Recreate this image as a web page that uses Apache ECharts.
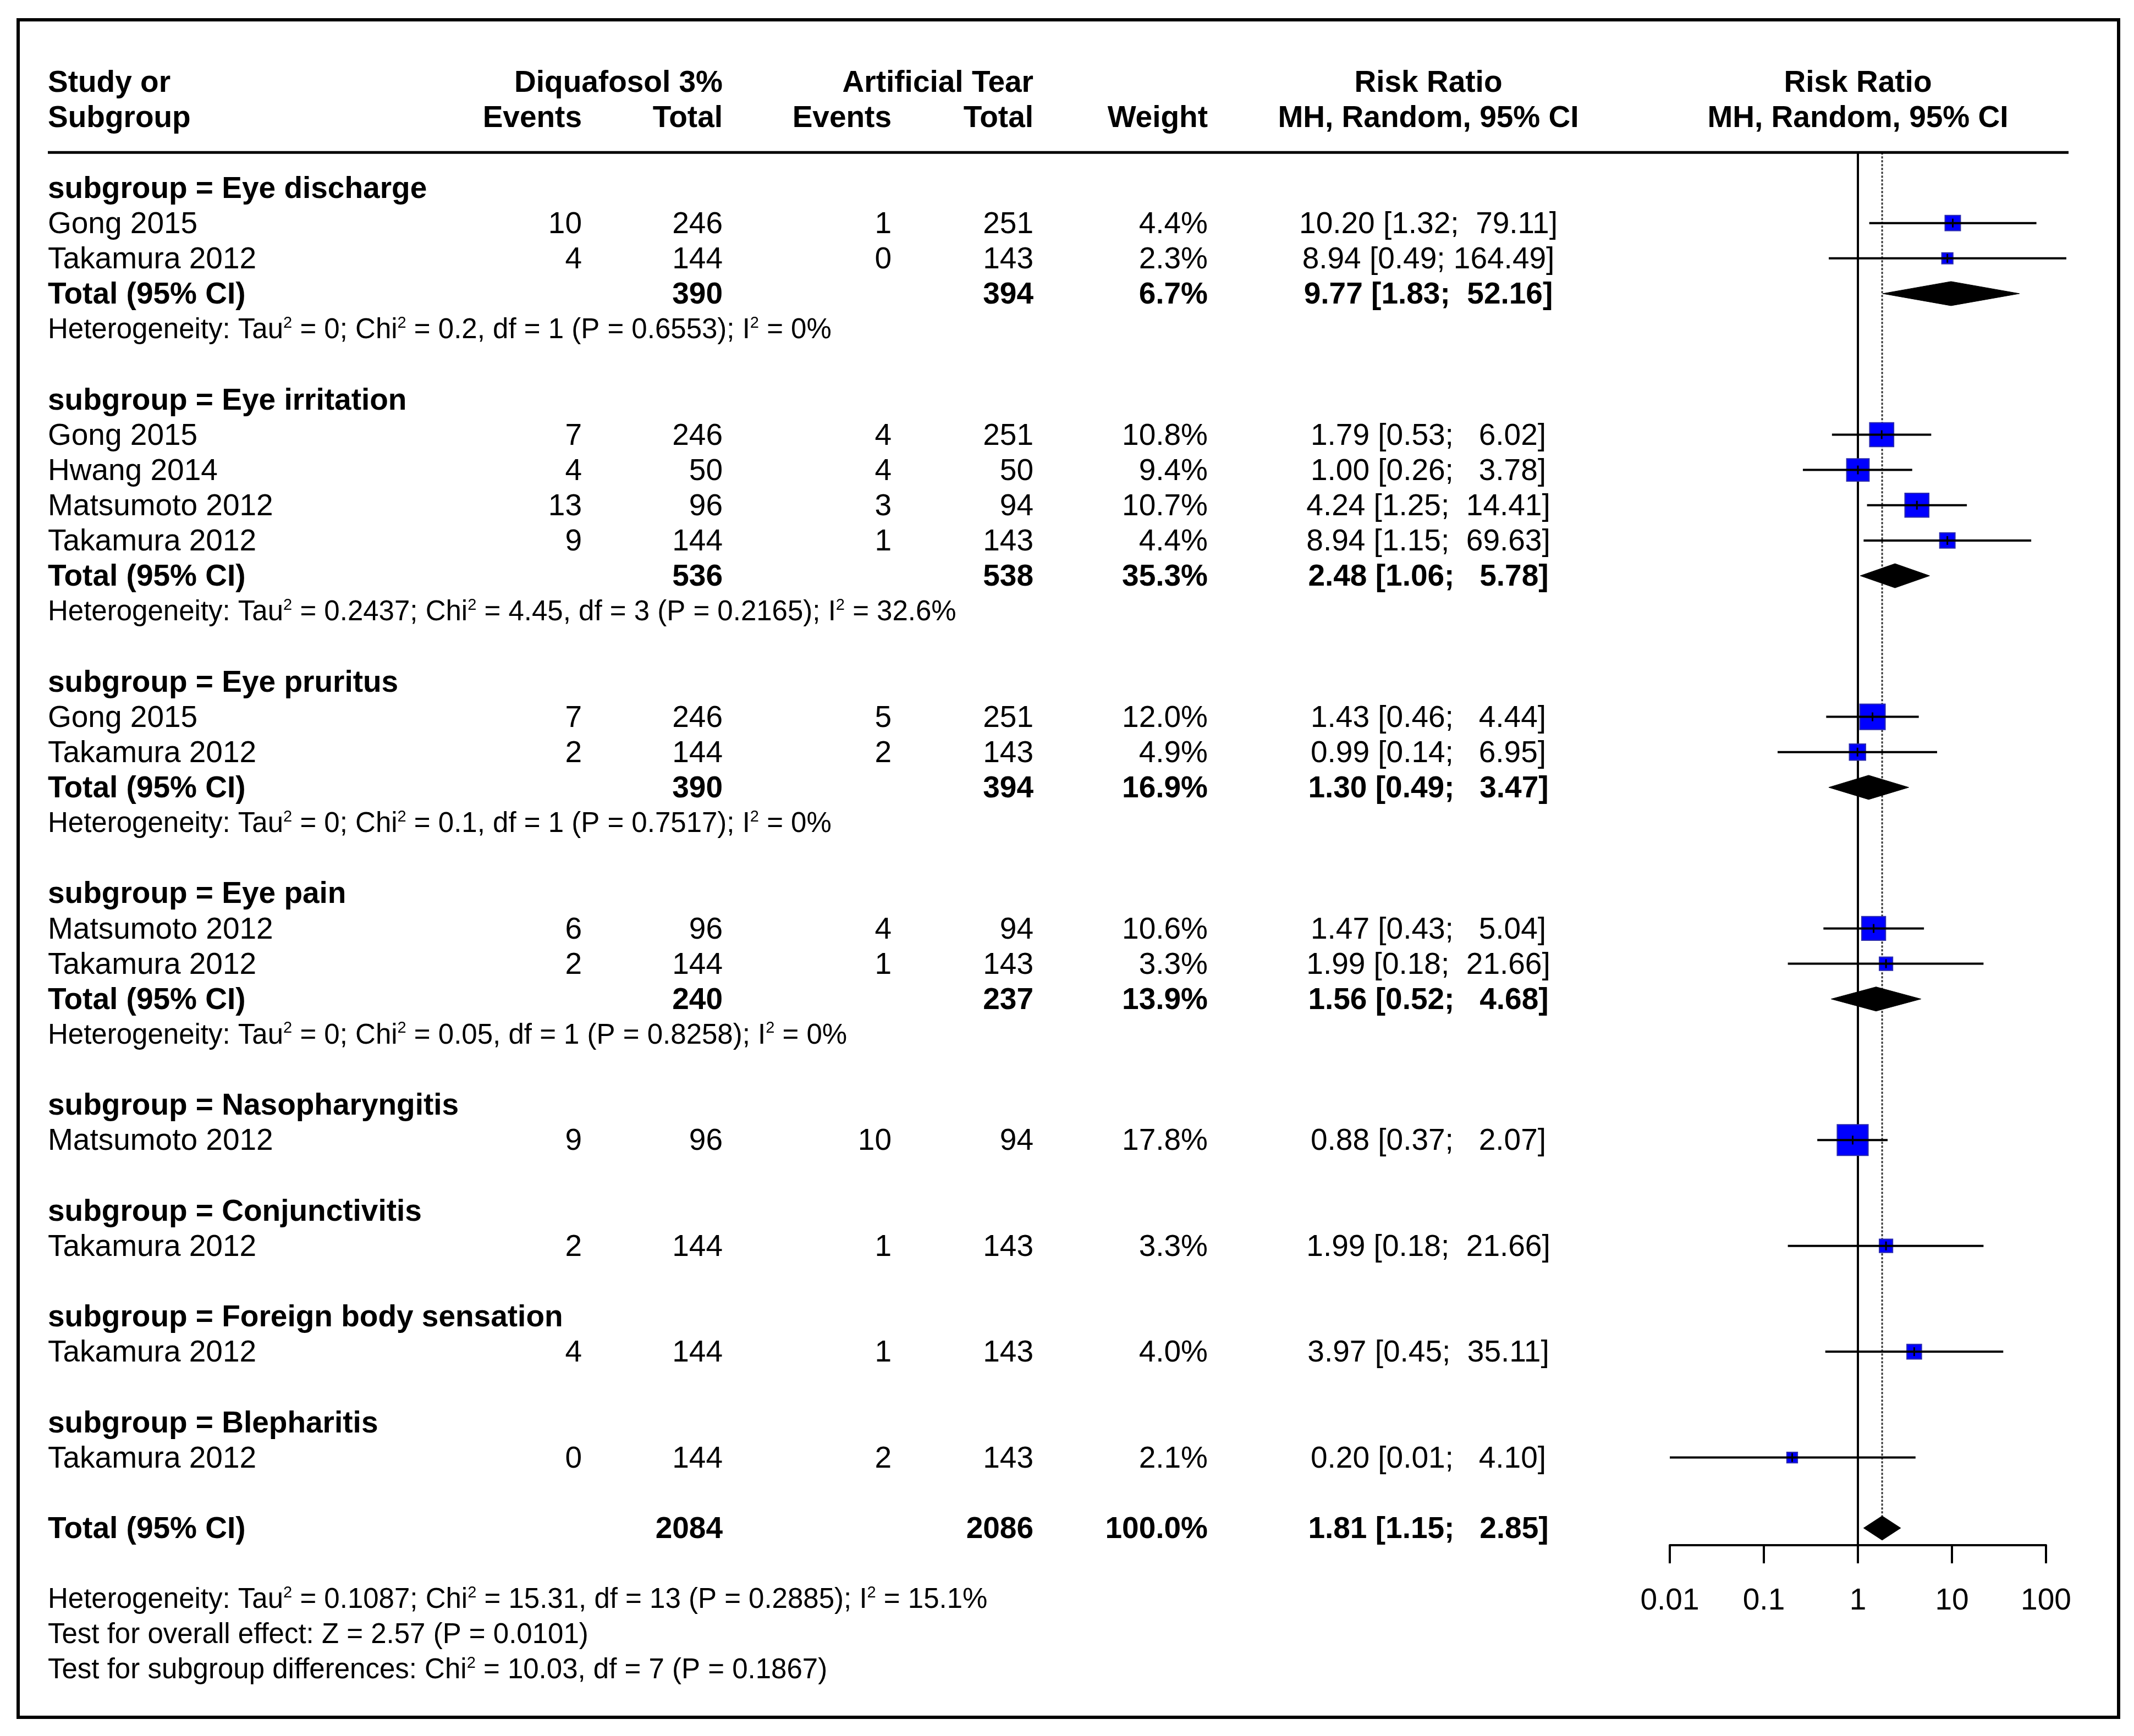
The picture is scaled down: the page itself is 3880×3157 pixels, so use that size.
<!DOCTYPE html>
<html><head><meta charset="utf-8">
<script src="https://cdn.jsdelivr.net/npm/echarts@6/dist/echarts.min.js"></script>
<style>html,body{margin:0;padding:0;background:#fff}#c{width:3880px;height:3157px}</style>
</head><body><div id="c"></div>
<script>
// ---------------- DATA ----------------
const subgroups = ['Eye discharge','Eye irritation','Eye pruritus','Eye pain','Nasopharyngitis','Conjunctivitis','Foreign body sensation','Blepharitis'];
const studyGroup = [0,0,1,1,1,1,2,2,3,3,4,5,6,7];
const studyNames = ['Gong 2015','Takamura 2012','Gong 2015','Hwang 2014','Matsumoto 2012','Takamura 2012','Gong 2015','Takamura 2012','Matsumoto 2012','Takamura 2012','Matsumoto 2012','Takamura 2012','Takamura 2012','Takamura 2012'];
const eventsDiq = [10,4,7,4,13,9,7,2,6,2,9,2,4,0];
const totalDiq  = [246,144,246,50,96,144,246,144,96,144,96,144,144,144];
const eventsArt = [1,0,4,4,3,1,5,2,4,1,10,1,1,2];
const totalArt  = [251,143,251,50,94,143,251,143,94,143,94,143,143,143];
const weights   = [4.4,2.3,10.8,9.4,10.7,4.4,12.0,4.9,10.6,3.3,17.8,3.3,4.0,2.1];
const riskRatio = [10.20,8.94,1.79,1.00,4.24,8.94,1.43,0.99,1.47,1.99,0.88,1.99,3.97,0.20];
const ciLower   = [1.32,0.49,0.53,0.26,1.25,1.15,0.46,0.14,0.43,0.18,0.37,0.18,0.45,0.01];
const ciUpper   = [79.11,164.49,6.02,3.78,14.41,69.63,4.44,6.95,5.04,21.66,2.07,21.66,35.11,4.10];

// subgroup pooled results (null = single-study subgroup)
const sgTotalDiq = [390,536,390,240,null,null,null,null];
const sgTotalArt = [394,538,394,237,null,null,null,null];
const sgWeight   = [6.7,35.3,16.9,13.9];
const sgRR       = [9.77,2.48,1.30,1.56];
const sgLo       = [1.83,1.06,0.49,0.52];
const sgHi       = [52.16,5.78,3.47,4.68];
const sgTau2     = ['0','0.2437','0','0'];
const sgChi2     = ['0.2','4.45','0.1','0.05'];
const sgDf       = [1,3,1,1];
const sgP        = ['0.6553','0.2165','0.7517','0.8258'];
const sgI2       = ['0','32.6','0','0'];

const overallTotalDiq = 2084, overallTotalArt = 2086, overallWeight = 100.0;
const overallRR = 1.81, overallLo = 1.15, overallHi = 2.85;
const overallTau2 = '0.1087', overallChi2 = '15.31', overallDf = 13, overallP = '0.2885', overallI2 = '15.1';
const overallZ = '2.57', overallZP = '0.0101';
const diffChi2 = '10.03', diffDf = 7, diffP = '0.1867';

const tickValues = [0.01,0.1,1,10,100];
const tickLabels = ['0.01','0.1','1','10','100'];

// ---------------- LAYOUT ----------------
const W = 3880, H = 3157;
const ROW0 = 341.5, ROWH = 64.14;
const TEXT_DY = 3;
const YMIN = -4, YMAX = 43;
const FONT = '"Liberation Sans", Arial, Helvetica, sans-serif';
const FS = 55, FS_HET = 51;
const X_NAME = 87, X_EV_D = 1058, X_TOT_D = 1314, X_EV_A = 1621, X_TOT_A = 1879, X_WT = 2196, X_RR = 2597;
const X_RULE_END = 3761;
const X_AX_L = 3036, X_AX_R = 3720, AXIS_Y = 2810;
const AXIS_ROW = (AXIS_Y - ROW0) / ROWH;
const DIAMOND_H = 22;

// ---------------- BUILD TABLE ----------------
const cells = [];
const marks = [];
function addCell(x, row, text, align, bold, rich, small) { cells.push({x, row, text, align, bold: !!bold, rich: !!rich, small: !!small}); }
function ciText(e, l, h) { return e.toFixed(2) + ' [' + l.toFixed(2).padStart(4, ' ') + '; ' + h.toFixed(2).padStart(6, ' ') + ']'; }
function hetText(t, c, d, p, i) { return 'Heterogeneity: Tau{s|2} = ' + t + '; Chi{s|2} = ' + c + ', df = ' + d + ' (P = ' + p + '); I{s|2} = ' + i + '%'; }

addCell(X_NAME, -3, 'Study or', 'left', 1);
addCell(X_NAME, -2, 'Subgroup', 'left', 1);
addCell(X_TOT_D, -3, 'Diquafosol 3%', 'right', 1);
addCell(X_EV_D, -2, 'Events', 'right', 1);
addCell(X_TOT_D, -2, 'Total', 'right', 1);
addCell(X_TOT_A, -3, 'Artificial Tear', 'right', 1);
addCell(X_EV_A, -2, 'Events', 'right', 1);
addCell(X_TOT_A, -2, 'Total', 'right', 1);
addCell(X_WT, -2, 'Weight', 'right', 1);
addCell(X_RR, -3, 'Risk Ratio', 'center', 1);
addCell(X_RR, -2, 'MH, Random, 95% CI', 'center', 1);

let row = 0;
subgroups.forEach((g, gi) => {
  addCell(X_NAME, row, 'subgroup = ' + g, 'left', 1);
  row++;
  studyGroup.forEach((sg, i) => {
    if (sg !== gi) return;
    addCell(X_NAME, row, studyNames[i], 'left');
    addCell(X_EV_D, row, String(eventsDiq[i]), 'right');
    addCell(X_TOT_D, row, String(totalDiq[i]), 'right');
    addCell(X_EV_A, row, String(eventsArt[i]), 'right');
    addCell(X_TOT_A, row, String(totalArt[i]), 'right');
    addCell(X_WT, row, weights[i].toFixed(1) + '%', 'right');
    addCell(X_RR, row, ciText(riskRatio[i], ciLower[i], ciUpper[i]), 'center');
    marks.push([riskRatio[i], ciLower[i], ciUpper[i], row, weights[i], 0]);
    row++;
  });
  if (sgTotalDiq[gi] != null) {
    addCell(X_NAME, row, 'Total (95% CI)', 'left', 1);
    addCell(X_TOT_D, row, String(sgTotalDiq[gi]), 'right', 1);
    addCell(X_TOT_A, row, String(sgTotalArt[gi]), 'right', 1);
    addCell(X_WT, row, sgWeight[gi].toFixed(1) + '%', 'right', 1);
    addCell(X_RR, row, ciText(sgRR[gi], sgLo[gi], sgHi[gi]), 'center', 1);
    marks.push([sgRR[gi], sgLo[gi], sgHi[gi], row, sgWeight[gi], 1]);
    row++;
    addCell(X_NAME, row, hetText(sgTau2[gi], sgChi2[gi], sgDf[gi], sgP[gi], sgI2[gi]), 'left', 0, 1, 1);
    row++;
  }
  row++;
});
const overallRow = row;
addCell(X_NAME, row, 'Total (95% CI)', 'left', 1);
addCell(X_TOT_D, row, String(overallTotalDiq), 'right', 1);
addCell(X_TOT_A, row, String(overallTotalArt), 'right', 1);
addCell(X_WT, row, overallWeight.toFixed(1) + '%', 'right', 1);
addCell(X_RR, row, ciText(overallRR, overallLo, overallHi), 'center', 1);
marks.push([overallRR, overallLo, overallHi, row, overallWeight, 1]);
row += 2;
addCell(X_NAME, row, hetText(overallTau2, overallChi2, overallDf, overallP, overallI2), 'left', 0, 1, 1);
row++;
addCell(X_NAME, row, 'Test for overall effect: Z = ' + overallZ + ' (P = ' + overallZP + ')', 'left', 0, 0, 1);
row++;
addCell(X_NAME, row, 'Test for subgroup differences: Chi{s|2} = ' + diffChi2 + ', df = ' + diffDf + ' (P = ' + diffP + ')', 'left', 0, 1, 1);

const RICH = { s: { fontSize: 29, lineHeight: 10, verticalAlign: 'top', fontFamily: FONT, fill: '#000' } };

function textEl(x, y, c) {
  return {
    type: 'text', x: x, y: y + TEXT_DY,
    style: {
      text: c.text, fill: '#000', fontSize: c.small ? FS_HET : FS, fontFamily: FONT,
      fontWeight: c.bold ? 'bold' : 'normal',
      align: c.align, verticalAlign: 'middle', lineHeight: 56,
      rich: c.rich ? RICH : undefined
    }
  };
}

const plotHeader = [{text: 'Risk Ratio', row: -3}, {text: 'MH, Random, 95% CI', row: -2}];

const option = {
  animation: false,
  backgroundColor: '#fff',
  grid: [
    {left: 0, top: ROW0 + YMIN * ROWH, width: W, height: (YMAX - YMIN) * ROWH},
    {left: X_AX_L, width: X_AX_R - X_AX_L, top: ROW0 - ROWH, height: AXIS_Y - (ROW0 - ROWH)}
  ],
  xAxis: [
    {gridIndex: 0, type: 'value', min: 0, max: W, show: false},
    {gridIndex: 1, type: 'log', logBase: 10, min: 0.01, max: 100,
     axisLine: {show: true, onZero: false, lineStyle: {color: '#000', width: 4}},
     axisTick: {show: true, length: 33, inside: false, lineStyle: {color: '#000', width: 4}},
     axisLabel: {show: true, color: '#000', fontSize: FS, fontFamily: FONT, margin: 74,
       showMinLabel: true, showMaxLabel: true,
       formatter: function (v) {
         const i = tickValues.findIndex(t => Math.abs(Math.log10(t) - Math.log10(v)) < 1e-6);
         return i >= 0 ? tickLabels[i] : '';
       }},
     splitLine: {show: false}, minorTick: {show: false}}
  ],
  yAxis: [
    {gridIndex: 0, type: 'value', min: YMIN, max: YMAX, inverse: true, show: false},
    {gridIndex: 1, type: 'value', min: -1, max: AXIS_ROW, inverse: true, show: false}
  ],
  graphic: [{
    type: 'rect', silent: true,
    shape: {x: 33, y: 36, width: 3819, height: 3087},
    style: {fill: null, stroke: '#000', lineWidth: 6}
  }],
  series: [
    { // table text
      type: 'custom', xAxisIndex: 0, yAxisIndex: 0, clip: false, silent: true, z: 2,
      data: cells.map(c => [c.x, c.row]),
      renderItem: function (params, api) {
        const c = cells[params.dataIndex];
        const p = api.coord([api.value(0), api.value(1)]);
        return textEl(p[0], p[1], c);
      }
    },
    { // header rule
      type: 'custom', xAxisIndex: 0, yAxisIndex: 0, clip: false, silent: true, z: 2,
      data: [[X_NAME, -1, X_RULE_END]],
      renderItem: function (params, api) {
        const a = api.coord([api.value(0), api.value(1)]);
        const b = api.coord([api.value(2), api.value(1)]);
        return {type: 'line', shape: {x1: a[0], y1: a[1], x2: b[0], y2: b[1]}, style: {stroke: '#000', lineWidth: 5}};
      }
    },
    { // plot header
      type: 'custom', xAxisIndex: 1, yAxisIndex: 1, clip: false, silent: true, z: 2,
      data: plotHeader.map(h => [1, h.row]),
      renderItem: function (params, api) {
        const p = api.coord([api.value(0), api.value(1)]);
        return textEl(p[0], p[1], {text: plotHeader[params.dataIndex].text, align: 'center', bold: true});
      }
    },
    { // reference lines: no effect (solid) and overall estimate (dotted)
      type: 'custom', xAxisIndex: 1, yAxisIndex: 1, clip: false, silent: true, z: 1,
      data: [[1, AXIS_ROW, 0], [overallRR, overallRow - DIAMOND_H / ROWH, 1]],
      renderItem: function (params, api) {
        const a = api.coord([api.value(0), -1]);
        const b = api.coord([api.value(0), api.value(1)]);
        const dotted = api.value(2) === 1;
        return {type: 'line', shape: {x1: a[0], y1: a[1], x2: b[0], y2: b[1]},
          style: {stroke: dotted ? '#333' : '#000', lineWidth: dotted ? 3 : 4, lineDash: dotted ? [4, 3] : null}};
      }
    },
    { // study squares, CIs and pooled diamonds
      type: 'custom', xAxisIndex: 1, yAxisIndex: 1, clip: false, silent: true, z: 3,
      data: marks,
      renderItem: function (params, api) {
        const est = api.value(0), lo = api.value(1), hi = api.value(2), r = api.value(3), w = api.value(4), kind = api.value(5);
        const pe = api.coord([est, r]), pl = api.coord([lo, r]), ph = api.coord([hi, r]);
        if (kind === 1) {
          return {type: 'polygon',
            shape: {points: [[pl[0], pe[1]], [pe[0], pe[1] - DIAMOND_H], [ph[0], pe[1]], [pe[0], pe[1] + DIAMOND_H]]},
            style: {fill: '#000', stroke: '#000', lineWidth: 1}};
        }
        const side = 13.3 * Math.sqrt(w);
        return {type: 'group', children: [
          {type: 'rect', shape: {x: pe[0] - side / 2, y: pe[1] - side / 2, width: side, height: side},
            style: {fill: '#0000ff', stroke: '#2a2ab0', lineWidth: 2}},
          {type: 'line', shape: {x1: pl[0], y1: pl[1], x2: ph[0], y2: ph[1]}, style: {stroke: '#000', lineWidth: 4}},
          {type: 'line', shape: {x1: pe[0], y1: pe[1] - 8, x2: pe[0], y2: pe[1] + 8}, style: {stroke: '#000', lineWidth: 3}}
        ]};
      }
    }
  ]
};

const chart = echarts.init(document.getElementById('c'), null, {renderer: 'canvas', width: W, height: H});
chart.setOption(option);
</script>
</body></html>
